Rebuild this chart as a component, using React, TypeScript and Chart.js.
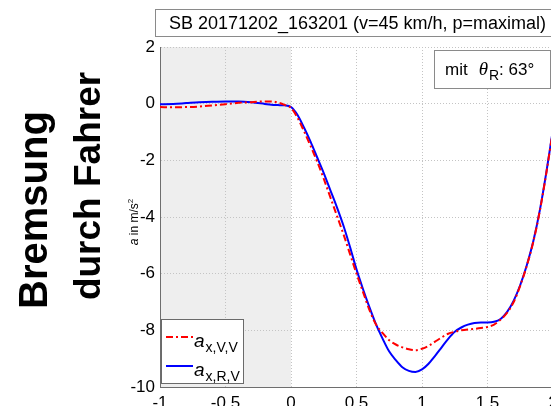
import React, { useEffect, useRef } from 'react';
import { Chart, registerables } from 'chart.js';

Chart.register(...registerables);

// ---- data ----
const timeS = [
  -1, -0.9, -0.8, -0.7, -0.6, -0.5, -0.4, -0.3,
  -0.2, -0.15, -0.1, -0.05, 0, 0.05, 0.1, 0.15, 0.2, 0.25, 0.3, 0.35, 0.4, 0.45,
  0.5, 0.55, 0.6, 0.65, 0.7, 0.75, 0.8, 0.85, 0.9, 0.95, 1.0, 1.05, 1.1, 1.15,
  1.2, 1.25, 1.3, 1.35, 1.4, 1.45, 1.5, 1.55, 1.6, 1.65, 1.7, 1.75, 1.8, 1.85,
  1.9, 1.95, 2.0,
];
const aXVV = [
  -0.12, -0.13, -0.12, -0.1, -0.06, -0.02, 0.03, 0.05,
  0.08, 0.08, 0.04, -0.04, -0.15, -0.5, -0.98, -1.5, -2.05, -2.65, -3.3, -3.95, -4.6, -5.3,
  -6.0, -6.65, -7.3, -7.8, -8.1, -8.35, -8.5, -8.6, -8.67, -8.7, -8.65, -8.55, -8.4, -8.25,
  -8.12, -8.05, -8.0, -7.97, -7.95, -7.92, -7.88, -7.8, -7.62, -7.38, -7.0, -6.42, -5.72, -4.87,
  -3.77, -2.42, -0.92,
];
const aXRV = [
  -0.02, -0.01, 0.02, 0.05, 0.07, 0.08, 0.08, 0.05,
  -0.01, -0.04, -0.05, -0.06, -0.12, -0.4, -0.85, -1.35, -1.9, -2.45, -3.05, -3.65, -4.3, -5.05,
  -5.85, -6.55, -7.2, -7.8, -8.3, -8.75, -9.05, -9.3, -9.43, -9.47, -9.38, -9.18, -8.9, -8.6,
  -8.3, -8.05, -7.9, -7.8, -7.74, -7.72, -7.72, -7.7, -7.6, -7.35, -6.95, -6.4, -5.7, -4.85,
  -3.75, -2.4, -0.9,
];
const xRange = [-1, 2];
const yRange = [-10, 2];
const shadeRange = [-1, 0];
const titleText = 'SB 20171202_163201 (v=45 km/h, p=maximal)';
const sideLine1 = 'Bremsung';
const sideLine2 = 'durch Fahrer';
const angleLabel = ['mit', 'θ', 'R', ': 63°'];
const legendSubs = ['x,V,V', 'x,R,V'];
const yAxisLabel = ['a', ' in m/s', '2'];

const FONT = '"Liberation Sans", Arial, Helvetica, sans-serif';
const RED = '#ff0000';
const BLUE = '#0000ff';
const RED_DASH = [7, 3, 2, 3];

const decor = {
  id: 'decor',
  beforeDraw(chart: any) {
    const { ctx, chartArea, scales } = chart;
    ctx.save();
    ctx.fillStyle = '#ffffff';
    ctx.fillRect(0, 0, chart.width, chart.height);
    const x0 = scales.x.getPixelForValue(shadeRange[0]);
    const x1 = scales.x.getPixelForValue(shadeRange[1]);
    ctx.fillStyle = '#eeeeee';
    ctx.fillRect(x0, chartArea.top, x1 - x0, chartArea.bottom - chartArea.top);
    ctx.restore();
  },
  afterDraw(chart: any) {
    const { ctx } = chart;
    ctx.save();

    // title box
    ctx.fillStyle = '#ffffff';
    ctx.fillRect(155.5, 9.5, 430, 27);
    ctx.strokeStyle = '#8a8a8a';
    ctx.lineWidth = 1;
    ctx.strokeRect(155.5, 9.5, 430, 27);
    ctx.fillStyle = '#000';
    ctx.font = `18px ${FONT}`;
    ctx.textAlign = 'center';
    ctx.textBaseline = 'alphabetic';
    ctx.fillText(titleText, 357.5, 29);

    // angle annotation box
    ctx.fillStyle = '#ffffff';
    ctx.fillRect(434.5, 50.5, 116, 38);
    ctx.strokeStyle = '#8a8a8a';
    ctx.strokeRect(434.5, 50.5, 116, 38);
    ctx.fillStyle = '#000';
    ctx.textAlign = 'left';
    let ax = 445;
    ctx.font = `17px ${FONT}`;
    ctx.fillText(angleLabel[0], ax, 75);
    ax += ctx.measureText(angleLabel[0]).width + 11;
    ctx.font = `italic 19px "Liberation Serif", "Times New Roman", serif`;
    ctx.fillText(angleLabel[1], ax, 75);
    ax += ctx.measureText(angleLabel[1]).width + 1;
    ctx.font = `14px ${FONT}`;
    ctx.fillText(angleLabel[2], ax, 80);
    ax += ctx.measureText(angleLabel[2]).width;
    ctx.font = `17px ${FONT}`;
    ctx.fillText(angleLabel[3], ax, 75);

    // legend
    ctx.fillStyle = '#ffffff';
    ctx.fillRect(161.5, 319.5, 82, 64);
    ctx.strokeStyle = '#6a6a6a';
    ctx.strokeRect(161.5, 319.5, 82, 64);
    const rows = [
      { y: 337, color: RED, dash: RED_DASH, sub: legendSubs[0] },
      { y: 366, color: BLUE, dash: [] as number[], sub: legendSubs[1] },
    ];
    rows.forEach((r) => {
      ctx.strokeStyle = r.color;
      ctx.lineWidth = 2;
      ctx.setLineDash(r.dash);
      ctx.beginPath();
      ctx.moveTo(166, r.y);
      ctx.lineTo(193, r.y);
      ctx.stroke();
      ctx.setLineDash([]);
      ctx.fillStyle = '#000';
      ctx.font = `italic 19px ${FONT}`;
      ctx.fillText('a', 194, r.y + 10);
      const w = ctx.measureText('a').width;
      ctx.font = `14px ${FONT}`;
      ctx.fillText(r.sub, 194 + w + 1, r.y + 15);
    });

    // y-axis label
    ctx.save();
    ctx.translate(138, 222);
    ctx.rotate(-Math.PI / 2);
    ctx.fillStyle = '#000';
    ctx.font = `italic 12px ${FONT}`;
    const w0 = ctx.measureText(yAxisLabel[0]).width;
    ctx.font = `12px ${FONT}`;
    const w1 = ctx.measureText(yAxisLabel[1]).width;
    ctx.font = `8px ${FONT}`;
    const w2 = ctx.measureText(yAxisLabel[2]).width;
    let lx = -(w0 + w1 + w2) / 2;
    ctx.textAlign = 'left';
    ctx.font = `italic 12px ${FONT}`;
    ctx.fillText(yAxisLabel[0], lx, 0);
    lx += w0;
    ctx.font = `12px ${FONT}`;
    ctx.fillText(yAxisLabel[1], lx, 0);
    lx += w1;
    ctx.font = `8px ${FONT}`;
    ctx.fillText(yAxisLabel[2], lx, -5);
    ctx.restore();

    // big side text
    const side = (text: string, size: number, bx: number, cy: number) => {
      ctx.save();
      ctx.translate(bx, cy);
      ctx.rotate(-Math.PI / 2);
      ctx.fillStyle = '#000';
      ctx.font = `bold ${size}px ${FONT}`;
      ctx.textAlign = 'center';
      ctx.textBaseline = 'alphabetic';
      ctx.fillText(text, 0, 0);
      ctx.restore();
    };
    side(sideLine1, 40, 47, 210);
    side(sideLine2, 37, 100, 186);

    ctx.restore();
  },
};

export default function App() {
  const ref = useRef<HTMLCanvasElement>(null);

  useEffect(() => {
    if (!ref.current) return;
    const chart = new Chart(ref.current, {
      type: 'line',
      data: {
        datasets: [
          {
            label: 'a_x,V,V',
            data: timeS.map((t, i) => ({ x: t, y: aXVV[i] })),
            borderColor: RED,
            borderWidth: 2,
            borderDash: RED_DASH,
            pointRadius: 0,
            fill: false,
            cubicInterpolationMode: 'monotone',
          },
          {
            label: 'a_x,R,V',
            data: timeS.map((t, i) => ({ x: t, y: aXRV[i] })),
            borderColor: BLUE,
            borderWidth: 2,
            pointRadius: 0,
            fill: false,
            cubicInterpolationMode: 'monotone',
          },
        ],
      },
      options: {
        responsive: false,
        animation: false,
        events: [],
        layout: { padding: { left: 0, top: 47, right: 47, bottom: 0 } },
        plugins: {
          legend: { display: false },
          tooltip: { enabled: false },
          title: { display: false },
        },
        scales: {
          x: {
            type: 'linear',
            min: xRange[0],
            max: xRange[1],
            ticks: {
              stepSize: 0.5,
              color: '#000',
              font: { family: FONT, size: 17 },
              padding: 6,
              maxRotation: 0,
              autoSkip: false,
              callback: (v: any) => String(v),
            },
            grid: { color: '#c4c4c4', lineWidth: 1, drawTicks: false },
            border: { color: '#6e6e6e', width: 1, dash: [1, 2] },
            afterFit: (s: any) => {
              s.height = 19;
            },
          },
          y: {
            min: yRange[0],
            max: yRange[1],
            ticks: {
              stepSize: 2,
              color: '#000',
              font: { family: FONT, size: 17 },
              padding: 5,
              callback: (v: any) => String(v),
            },
            grid: { color: '#c4c4c4', lineWidth: 1, drawTicks: false },
            border: { color: '#6e6e6e', width: 1, dash: [1, 2] },
            afterFit: (s: any) => {
              s.width = 160;
            },
          },
        },
      },
      plugins: [decor],
    } as any);
    return () => chart.destroy();
  }, []);

  return (
    <div
      style={{
        position: 'fixed',
        left: 0,
        top: 0,
        width: 551,
        height: 406,
        overflow: 'hidden',
        background: '#fff',
      }}
    >
      <canvas ref={ref} width={600} height={406} style={{ width: 600, height: 406, display: 'block' }} />
    </div>
  );
}
